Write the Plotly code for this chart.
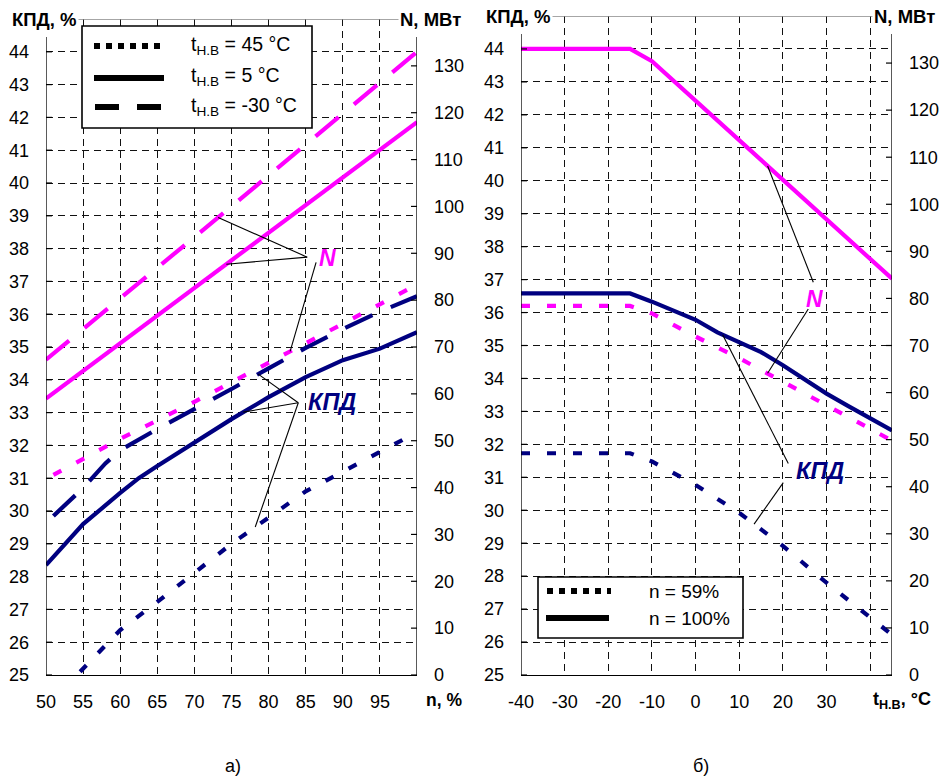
import numpy as np
import plotly.graph_objects as go

W, H = 941, 780

# ---------------- Panel а): x = n, %
n_dot_N = [51, 60, 70, 80, 90, 100]
N_dot = [42.7, 50.4, 58.3, 66.6, 75.1, 83.3]
n_sol_N = [50, 75, 100]
N_sol = [59.0, 88.5, 118.0]
n_dash_N = [50, 75, 100]
N_dash = [67.3, 100.0, 133.0]

n_dot_k = [54.6, 60, 65, 70, 75, 80, 85, 90, 95, 100]
k_dot = [25.1, 26.37, 27.23, 28.13, 29.0, 29.8, 30.6, 31.2, 31.8, 32.4]
n_sol_k = [50, 55, 60, 62.5, 65, 70, 75, 80, 85, 90, 95, 100]
k_sol = [28.35, 29.6, 30.55, 31.0, 31.37, 32.1, 32.8, 33.47, 34.08, 34.6, 34.95, 35.45]
n_dash_k = [51, 55, 58, 60, 65, 70, 75, 80, 85, 90, 95, 100]
k_dash = [29.85, 30.7, 31.45, 31.85, 32.5, 33.1, 33.72, 34.35, 34.97, 35.55, 36.08, 36.55]

# ---------------- Panel б): x = t_H.B, °C
t_N100 = [-40, -15, -10, 45]
N_100 = [133.0, 133.0, 130.4, 84.2]
t_N59 = [-40, -15, -10, 0, 10, 20, 30, 40, 45]
N_59 = [78.4, 78.4, 76.8, 71.9, 67.3, 62.4, 57.3, 52.3, 49.8]
t_k100 = [-40, -15, -10, 0, 5, 10, 15, 20, 25, 30, 35, 40, 45]
k_100 = [36.58, 36.58, 36.33, 35.78, 35.4, 35.1, 34.8, 34.4, 33.98, 33.54, 33.16, 32.79, 32.42]
t_k59 = [-40, -15, -10, 0, 10, 20, 30, 40, 45]
k_59 = [31.73, 31.73, 31.48, 30.77, 29.92, 28.92, 27.8, 26.75, 26.22]

# ticks
kpd_ticks = list(range(25, 45))
N_ticks = list(range(0, 140, 10))
n_ticks = list(range(50, 100, 5))
t_ticks = list(range(-40, 50, 10))
t_labels = [str(v) for v in t_ticks[:-1]] + [""]

MAG = "#FF00FF"
NAVY = "#000080"
DOT = "9px,17px"
DASH = "30px,20px"
GDASH = "7px,5px"
GCOL = "#111111"
LW = 4.2
FONT = "Liberation Sans, Arial, sans-serif"
TF = dict(family=FONT, size=18, color="black")

fig = go.Figure()

def add(x, y, color, dash, xa, ya):
    fig.add_trace(go.Scatter(x=x, y=y, mode="lines", xaxis=xa, yaxis=ya,
                             line=dict(color=color, width=LW, dash=dash),
                             hoverinfo="skip", showlegend=False))

# Panel a
add(n_dash_N, N_dash, MAG, DASH, "x", "y2")
add(n_sol_N, N_sol, MAG, "solid", "x", "y2")
add(n_dot_N, N_dot, MAG, DOT, "x", "y2")
add(n_dash_k, k_dash, NAVY, DASH, "x", "y")
add(n_sol_k, k_sol, NAVY, "solid", "x", "y")
add(n_dot_k, k_dot, NAVY, DOT, "x", "y")
# Panel b
add(t_N100, N_100, MAG, "solid", "x2", "y4")
add(t_N59, N_59, MAG, DOT, "x2", "y4")
add(t_k100, k_100, NAVY, "solid", "x2", "y3")
add(t_k59, k_59, NAVY, DOT, "x2", "y3")

def px(x):
    return x / W

def py(y):
    return 1 - y / H

ydomA = [py(675), py(19)]
ydomB = [py(675), py(16)]
grid = dict(showgrid=True, gridcolor=GCOL, gridwidth=1, griddash=GDASH,
            zeroline=False, ticks="", tickfont=TF, automargin=False)
rgt = dict(showgrid=False, zeroline=False, ticks="", tickfont=TF, automargin=False)

fig.update_layout(
    width=W, height=H, margin=dict(l=0, r=0, t=0, b=0, autoexpand=False),
    paper_bgcolor="white", plot_bgcolor="white", showlegend=False,
    font=dict(family=FONT, size=18, color="black"),
    xaxis=dict(domain=[px(46), px(417)], range=[50, 100], anchor="y",
               tickvals=n_ticks, showline=True, linecolor="black", linewidth=1.3,
               ticklabelstandoff=10, **grid),
    yaxis=dict(domain=ydomA, range=[25, 45], anchor="x", tickvals=kpd_ticks,
               ticklabelstandoff=16, **grid),
    yaxis2=dict(domain=ydomA, range=[0, 140], anchor="x", overlaying="y", side="right",
                tickvals=N_ticks, ticklabelstandoff=16, **rgt),
    xaxis2=dict(domain=[px(521), px(892)], range=[-40, 45], anchor="y3",
                tickvals=t_ticks, ticktext=t_labels, showline=True, linecolor="black",
                linewidth=1.3, ticklabelstandoff=10, **grid),
    yaxis3=dict(domain=ydomB, range=[25, 45], anchor="x2", tickvals=kpd_ticks,
                ticklabelstandoff=16, **grid),
    yaxis4=dict(domain=ydomB, range=[0, 140], anchor="x2", overlaying="y3", side="right",
                tickvals=N_ticks, ticklabelstandoff=16, **rgt),
)

shapes = []

def line(x0, y0, x1, y1, xref, yref, color="black", width=1.3, dash="solid", layer="above"):
    shapes.append(dict(type="line", x0=x0, y0=y0, x1=x1, y1=y1, xref=xref, yref=yref,
                       line=dict(color=color, width=width, dash=dash), layer=layer))

# axis frames
for xv, xr, yr in [(50, "x", "y"), (100, "x", "y"), (-40, "x2", "y3"), (45, "x2", "y3")]:
    line(xv, 24.85, xv, 44.45, xr, yr)
line(50, 45, 100, 45, "x", "y", color="#888888", width=1.3)
line(-40, 45, 45, 45, "x2", "y3", color="#888888", width=1.3)

# crossing tick marks
def ticks(anchor, xr, yr, vals):
    for v in vals:
        shapes.append(dict(type="line", xref=xr, yref=yr, xsizemode="pixel", xanchor=anchor,
                           x0=-6, x1=6, y0=v, y1=v, line=dict(color="black", width=1.2),
                           layer="above"))

ticks(50, "x", "y", kpd_ticks)
ticks(100, "x", "y2", N_ticks)
ticks(-40, "x2", "y3", kpd_ticks)
ticks(45, "x2", "y4", N_ticks)

# leader lines
def N2k(N):
    return 25 + N / 7.0

def lead(hub, xe, ye, xr, yr):
    line(hub[0], hub[1], xe, ye, xr, yr, width=1.1)

hubA_N1 = (85.2, 37.74)
hubA_N2 = (86.4, 37.58)
lead(hubA_N1, 73.2, N2k(np.interp(73.2, n_dash_N, N_dash)), "x", "y")
lead(hubA_N1, 74.3, N2k(np.interp(74.3, n_sol_N, N_sol)), "x", "y")
lead(hubA_N2, 82.9, N2k(np.interp(82.9, n_dot_N, N_dot)), "x", "y")
hubA_K = (84.0, 33.30)
lead(hubA_K, 78.6, np.interp(78.6, n_dash_k, k_dash), "x", "y")
lead(hubA_K, 76.6, np.interp(76.6, n_sol_k, k_sol), "x", "y")
lead(hubA_K, 78.2, np.interp(78.2, n_dot_k, k_dot), "x", "y")

lead((26.97, 36.92), 16.5, N2k(np.interp(16.5, t_N100, N_100)), "x2", "y3")
lead((25.82, 36.11), 16.5, N2k(np.interp(16.5, t_N59, N_59)), "x2", "y3")
lead((21.24, 31.42), 6.2, np.interp(6.2, t_k100, k_100), "x2", "y3")
lead((20.09, 30.84), 13.4, np.interp(13.4, t_k59, k_59), "x2", "y3")

# legends (drawn manually)
shapes.append(dict(type="rect", xref="paper", yref="paper", x0=px(82), y0=py(26), x1=px(312),
                   y1=py(128), fillcolor="white", line=dict(color="black", width=1.6), layer="above"))
line(px(94), py(46), px(162), py(46), "paper", "paper", width=6, dash="6px,6px")
line(px(94), py(78), px(164), py(78), "paper", "paper", width=6)
line(px(95), py(107), px(161), py(107), "paper", "paper", width=6, dash="24px,18px")

shapes.append(dict(type="rect", xref="paper", yref="paper", x0=px(538), y0=py(577), x1=px(743),
                   y1=py(638), fillcolor="white", line=dict(color="black", width=1.6), layer="above"))
line(px(547), py(591), px(611), py(591), "paper", "paper", width=6, dash="6px,6px")
line(px(546), py(618), px(609), py(618), "paper", "paper", width=6)

fig.update_layout(shapes=shapes)

ann = []

def text(x, y, s, size=18, color="black", xanchor="center", bg=None, xref="paper", yref="paper"):
    d = dict(x=x, y=y, xref=xref, yref=yref, text=s, showarrow=False, xanchor=xanchor,
             yanchor="middle", font=dict(family=FONT, size=size, color=color))
    if bg:
        d.update(bgcolor=bg, borderpad=1)
    ann.append(d)

text(px(44), py(19), "<b>КПД, %</b>", size=18.5, bg="white")
text(px(430), py(19), "<b>N, МВт</b>", size=18.5, bg="white")
text(px(518), py(16), "<b>КПД, %</b>", size=18.5, bg="white")
text(px(904), py(16), "<b>N, МВт</b>", size=18.5, bg="white")
text(px(444), py(700), "<b>n, %</b>", size=17.5)
text(px(902), py(700), "<b>t<sub>Н.В</sub>, °C</b>", size=18)
text(px(233), py(766), "а)", size=18)
text(px(701), py(766), "б)", size=18)

text(px(189), py(45), "t<sub>Н.В</sub> = 45 °C", size=19.5, xanchor="left")
text(px(189), py(77), "t<sub>Н.В</sub> = 5 °C", size=19.5, xanchor="left")
text(px(189), py(107), "t<sub>Н.В</sub> = -30 °C", size=19.5, xanchor="left")
text(px(647), py(591), "n = 59%", size=19, xanchor="left")
text(px(647), py(618), "n = 100%", size=19, xanchor="left")

text(88.0, 37.71, "<b><i>N</i></b>", size=23, color=MAG, xref="x", yref="y")
text(88.6, 33.33, "<b><i>КПД</i></b>", size=23.5, color=NAVY, xref="x", yref="y")
text(27.35, 36.42, "<b><i>N</i></b>", size=23, color=MAG, xref="x2", yref="y3")
text(28.6, 31.19, "<b><i>КПД</i></b>", size=23.5, color=NAVY, xref="x2", yref="y3")

fig.update_layout(annotations=ann)

fig.write_html("out.html")
